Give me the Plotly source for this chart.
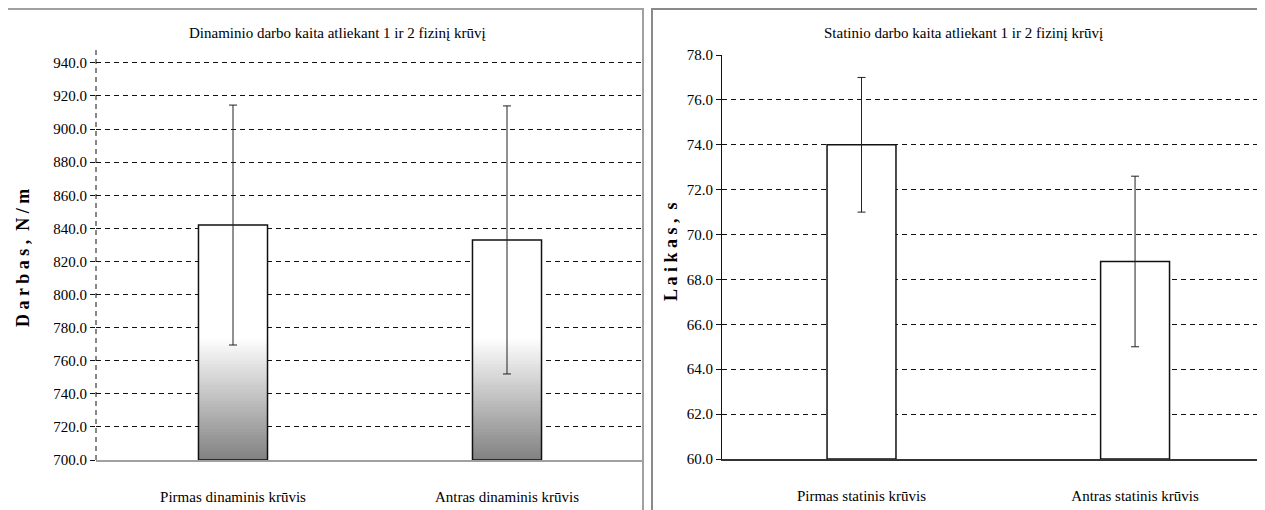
import plotly.graph_objects as go

# page is 1265x510; the browser puts the figure 8px in from the top-left
PAGE_W, PAGE_H = 1265, 510
OX, OY = 8, 8
W, H = PAGE_W - OX, PAGE_H - OY

# ---- data ----
dyn_categories = ["Pirmas dinaminis krūvis", "Antras dinaminis krūvis"]
dyn_values = [842.0, 833.0]
dyn_errors = [72.5, 81.0]

stat_categories = ["Pirmas statinis krūvis", "Antras statinis krūvis"]
stat_values = [74.0, 68.8]
stat_errors = [3.0, 3.8]

dyn_title = "Dinaminio darbo kaita atliekant 1 ir 2 fizinį krūvį"
stat_title = "Statinio darbo kaita atliekant 1 ir 2 fizinį krūvį"
dyn_ylabel = "D a r b a s ,  N / m"
stat_ylabel = "L a i k a s ,  s"

# ---- style ----
FONT = "Liberation Serif, Times New Roman, DejaVu Serif, serif"
DYN_BASE = 700.0
GRAD_TOP = 775.0      # gradient fades from white (here) to grey (axis base)
GRAD_STEPS = 40
BAR_W = 0.252

def px(x):
    return (x - OX) / W

def py(y):
    return 1 - (y - OY) / H

fig = go.Figure()

xcat_l = list(range(len(dyn_categories)))
xcat_r = list(range(len(stat_categories)))

# left: white full bar
fig.add_trace(go.Bar(x=xcat_l, y=[v - DYN_BASE for v in dyn_values], base=DYN_BASE,
                     width=BAR_W, marker=dict(color="white", line=dict(width=0)),
                     xaxis="x", yaxis="y", showlegend=False, hoverinfo="skip"))
# gradient overlays
for k in range(GRAD_STEPS):
    top = DYN_BASE + (GRAD_TOP - DYN_BASE) * (1 - k / GRAD_STEPS)
    frac = (top - DYN_BASE) / (GRAD_TOP - DYN_BASE)  # 1 at top, ->0 at base
    c = int(round(128 + (255 - 128) * frac))
    fig.add_trace(go.Bar(x=xcat_l, y=[min(top, v) - DYN_BASE for v in dyn_values], base=DYN_BASE,
                         width=BAR_W, marker=dict(color=f"rgb({c},{c},{c})", line=dict(width=0)),
                         xaxis="x", yaxis="y", showlegend=False, hoverinfo="skip"))
# outline + error bars
fig.add_trace(go.Bar(x=xcat_l, y=[v - DYN_BASE for v in dyn_values], base=DYN_BASE,
                     width=BAR_W, marker=dict(color="rgba(0,0,0,0)", line=dict(color="#111", width=1.5)),
                     error_y=dict(type="data", array=dyn_errors, visible=True, color="#222",
                                  thickness=1, width=4),
                     xaxis="x", yaxis="y", showlegend=False))

# right bars
fig.add_trace(go.Bar(x=xcat_r, y=[v - 60 for v in stat_values], base=60,
                     width=BAR_W, marker=dict(color="white", line=dict(color="#111", width=1.5)),
                     error_y=dict(type="data", array=stat_errors, visible=True, color="#222",
                                  thickness=1, width=4),
                     xaxis="x2", yaxis="y2", showlegend=False))

grid = dict(showgrid=True, gridcolor="#111", gridwidth=1, griddash="5px,4px")
tickfont = dict(family=FONT, size=15, color="black")

fig.update_layout(
    width=W, height=H,
    margin=dict(l=0, r=0, t=0, b=0, autoexpand=False),
    paper_bgcolor="white", plot_bgcolor="white",
    barmode="overlay",
    xaxis=dict(domain=[px(96), px(644)], range=[-0.5, 1.5], tickmode="array",
               tickvals=xcat_l, ticktext=dyn_categories, tickfont=dict(family=FONT, size=15, color="black"),
               ticklabelstandoff=22, showline=True, linecolor="#a0a0a0", linewidth=2,
               showgrid=False, zeroline=False, ticks="", anchor="y", automargin=False),
    yaxis=dict(domain=[py(460), py(48)], range=[700, 949], tick0=700, dtick=20,
               tickformat=".1f", tickfont=tickfont, ticks="outside", ticklen=5,
               tickcolor="#111", showline=False, zeroline=False, anchor="x", automargin=False, **grid),
    xaxis2=dict(domain=[px(722), 1.0], range=[-0.510, 1.475], tickmode="array",
                tickvals=xcat_r, ticktext=stat_categories, tickfont=dict(family=FONT, size=15, color="black"),
                ticklabelstandoff=22, showline=True, linecolor="#333", linewidth=1.5,
                showgrid=False, zeroline=False, ticks="", anchor="y2", automargin=False),
    yaxis2=dict(domain=[py(459), py(55)], range=[60, 78], tick0=60, dtick=2,
                tickformat=".1f", tickfont=tickfont, ticks="outside", ticklen=5,
                tickcolor="#111", showline=True, linecolor="#111", linewidth=1.2,
                zeroline=False, anchor="x2", automargin=False, **grid),
)

# dashed left y-axis line of the left chart
fig.add_shape(type="line", xref="x domain", yref="y domain", x0=0, x1=0, y0=0, y1=1,
              line=dict(color="#111", width=1, dash="5px,4px"))

# panel borders
fig.add_shape(type="rect", xref="paper", yref="paper", x0=px(5), x1=px(643), y0=py(530), y1=py(9),
              line=dict(color="#a0a0a0", width=2), fillcolor="rgba(0,0,0,0)", layer="below")
fig.add_shape(type="rect", xref="paper", yref="paper", x0=px(652), x1=px(1290), y0=py(530), y1=py(9),
              line=dict(color="#8a8a8a", width=2), fillcolor="rgba(0,0,0,0)", layer="below")

ann = []
ann.append(dict(text=dyn_title, x=px(337), y=py(33), xref="paper", yref="paper",
                xanchor="center", yanchor="middle",
                showarrow=False, font=dict(family=FONT, size=15, color="black")))
ann.append(dict(text=stat_title, x=px(963), y=py(33), xref="paper", yref="paper",
                xanchor="center", yanchor="middle",
                showarrow=False, font=dict(family=FONT, size=15, color="black")))
ann.append(dict(text="<b>" + dyn_ylabel + "</b>", x=px(23), y=py(258), xref="paper", yref="paper",
                xanchor="center", yanchor="middle",
                textangle=-90, showarrow=False, font=dict(family=FONT, size=18, color="black")))
ann.append(dict(text="<b>" + stat_ylabel + "</b>", x=px(671), y=py(252), xref="paper", yref="paper",
                xanchor="center", yanchor="middle",
                textangle=-90, showarrow=False, font=dict(family=FONT, size=18, color="black")))
fig.update_layout(annotations=ann)

fig.write_html("out.html")
